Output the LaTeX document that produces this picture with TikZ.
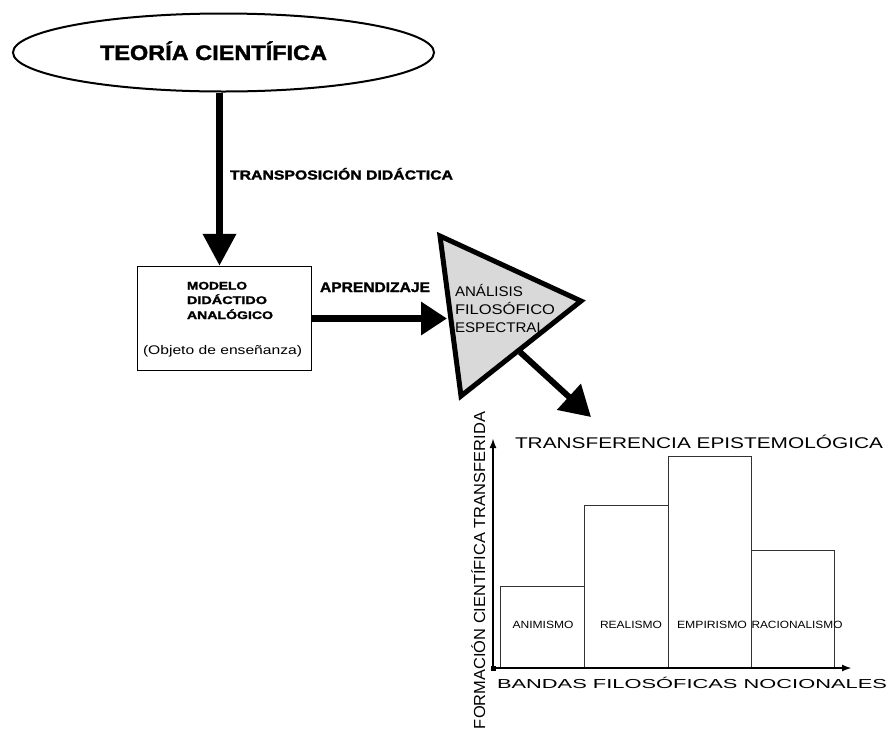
\documentclass[tikz,border=0pt]{standalone}
\usepackage{fontspec}
\setmainfont{Liberation Sans}[BoldFeatures={FakeBold=1.6}]
\usetikzlibrary{arrows.meta,shapes.geometric}
\definecolor{trigray}{RGB}{217,217,217}
\definecolor{barline}{RGB}{50,50,50}
\newcommand\fw[2]{\resizebox{#1}{\height}{#2}}
\newcommand\fsz[1]{\fontsize{#1}{#1}\selectfont}
\begin{document}
\begin{tikzpicture}[x=1pt,y=-1pt,
  txt/.style={inner sep=0pt,outer sep=0pt},
  bigv/.style={line width=7pt,-{Triangle[length=32pt,width=32pt]}},
  bigh/.style={line width=6.5pt,-{Triangle[length=26pt,width=32pt]}},
  bigd/.style={line width=6pt,-{Triangle[length=30pt,width=34pt]}},
  axis/.style={line width=2pt,-{Latex[length=10pt,width=7pt]}},
  bar/.style={draw=barline,line width=1.3pt,inner sep=0pt,anchor=south west}]
\useasboundingbox (0,0) rectangle (888,729);
\fill[white] (0,0) rectangle (888,729);

% top ellipse
\node[ellipse,draw,line width=2pt,fill=white,minimum width=421pt,minimum height=78pt,inner sep=0pt] (ell) at (223.5,52.5) {};
\node[txt,anchor=base] (teoria) at (213.5,60) {\fsz{21}\bfseries\fw{227pt}{TEORÍA CIENTÍFICA}};

% box
\node[draw,line width=1.5pt,fill=white,minimum width=174pt,minimum height=104pt,inner sep=0pt] (box) at (224.5,318.5) {};
\node[txt,anchor=base west] (m1) at (187,289.5) {\fsz{11}\bfseries\fw{60pt}{MODELO}};
\node[txt,anchor=base west] (m2) at (187,304) {\fsz{11}\bfseries\fw{80pt}{DIDÁCTIDO}};
\node[txt,anchor=base west] (m3) at (187,319) {\fsz{11}\bfseries\fw{86pt}{ANALÓGICO}};
\node[txt,anchor=base west] (obj) at (143,354.5) {\fsz{12.5}\fw{159pt}{(Objeto de enseñanza)}};

% vertical arrow
\draw[bigv] ([xshift=-4pt]ell.south) -- ([xshift=-5pt]box.north);
\node[txt,anchor=base west] (transp) at (230,179.5) {\fsz{13}\bfseries\fw{223pt}{TRANSPOSICIÓN DIDÁCTICA}};

% triangle
\coordinate (t1) at (440,236);
\coordinate (t2) at (581,301);
\coordinate (t3) at (461,396);
\draw[line width=5pt,fill=trigray] (t1) -- (t2) -- (t3) -- cycle;
\node[txt,anchor=base west] (an1) at (455,296) {\fsz{14}\fw{68pt}{ANÁLISIS}};
\node[txt,anchor=base west] (an2) at (455,314) {\fsz{14}\fw{100pt}{FILOSÓFICO}};
\node[txt,anchor=base west] (an3) at (455,332) {\fsz{14}\fw{90pt}{ESPECTRAL}};

% horizontal arrow
\coordinate (hin) at (447,316);
\draw[bigh] (box.east) -- (box.east -| hin);
\node[txt,anchor=base west] (apr) at (320,292) {\fsz{14}\bfseries\fw{110pt}{APRENDIZAJE}};

% diagonal arrow
\coordinate (dstart) at (520,352);
\coordinate (dtip) at (591,417);
\draw[bigd] (dstart) -- (dtip);

% chart
\coordinate (O) at (493,668);
\coordinate (ytip) at (493,438);
\coordinate (xtip) at (852,668);
\node[bar,minimum width=84pt,minimum height=81pt] (b1) at (500,668) {};
\node[bar,minimum width=84pt,minimum height=162pt] (b2) at (584,668) {};
\node[bar,minimum width=83pt,minimum height=211pt] (b3) at (668,668) {};
\node[bar,minimum width=83pt,minimum height=117pt] (b4) at (751,668) {};
\draw[axis] (O) -- (ytip);
\draw[axis] (O) -- (xtip);
\node[fill,minimum size=5pt,inner sep=0pt] (orig) at (O) {};

\node[txt,anchor=base] (l1) at (543,628) {\fsz{10.5}\fw{61pt}{ANIMISMO}};
\node[txt,anchor=base] (l2) at (631,628) {\fsz{10.5}\fw{62pt}{REALISMO}};
\node[txt,anchor=base] (l3) at (712,628) {\fsz{10.5}\fw{70pt}{EMPIRISMO}};
\node[txt,anchor=base] (l4) at (797,628) {\fsz{10.5}\fw{91pt}{RACIONALISMO}};

\node[txt,anchor=base west] (title) at (515,448) {\fsz{15.5}\fw{368pt}{TRANSFERENCIA EPISTEMOLÓGICA}};
\node[txt,anchor=base west] (xlab) at (497,688.5) {\fsz{13}\fw{390pt}{BANDAS FILOSÓFICAS NOCIONALES}};
\node[txt,anchor=base east,rotate=90] (ylab) at (485,412) {\fsz{16}\fw{317pt}{FORMACIÓN CIENTÍFICA TRANSFERIDA}};
\end{tikzpicture}
\end{document}
